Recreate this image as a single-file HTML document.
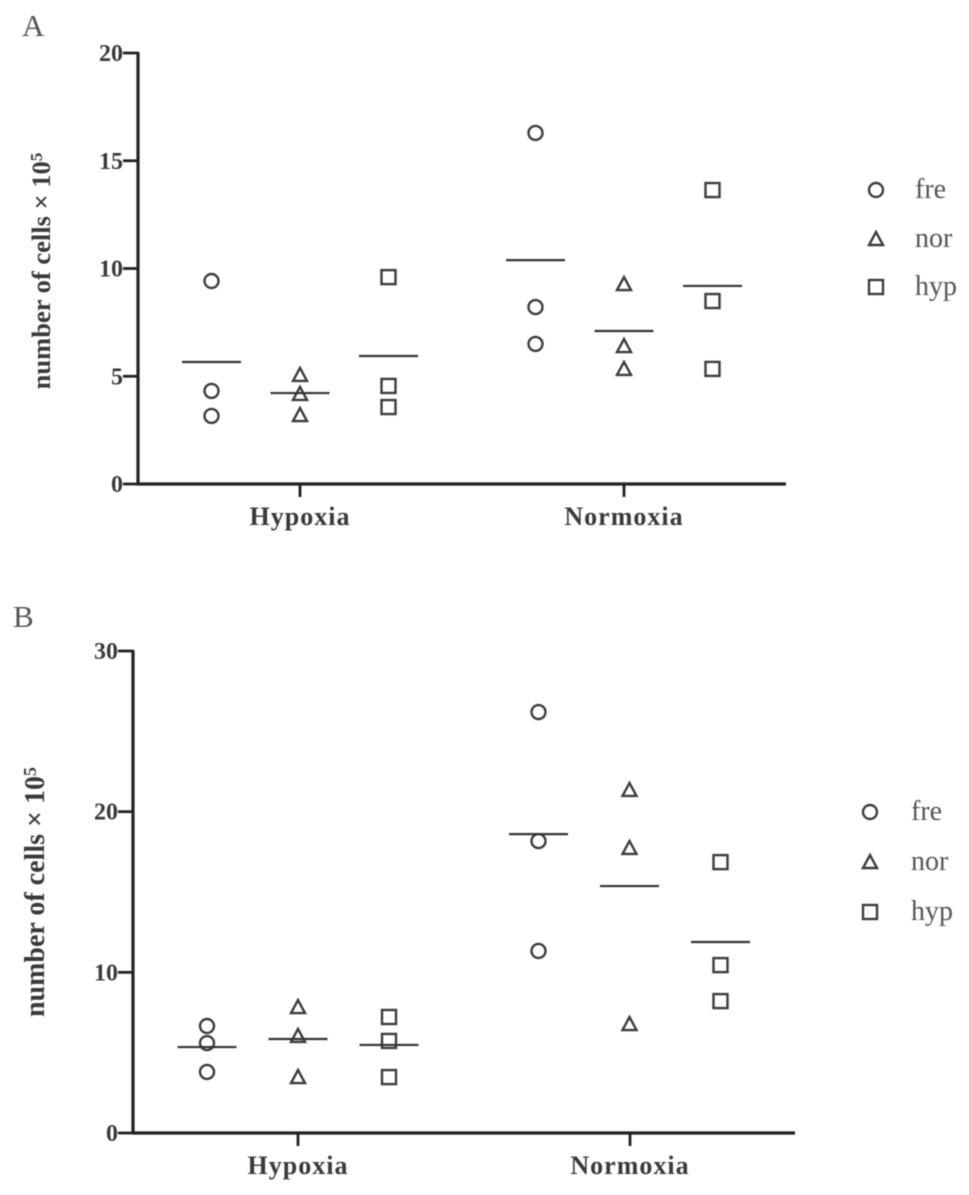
<!DOCTYPE html>
<html>
<head>
<meta charset="utf-8">
<title>Number of cells under hypoxia and normoxia</title>
<style>
html,body{margin:0;padding:0;background:#fff;}
svg{display:block;filter:blur(0.45px);}
text{font-family:"Liberation Serif",serif;fill:#3a3a3a;}
.tick{font-weight:bold;font-size:24px;}
.cat{font-weight:bold;font-size:26px;letter-spacing:1px;}
.title{font-weight:bold;}
.leg{font-size:28px;fill:#555;}
.panel{font-size:31px;fill:#555;}
</style>
</head>
<body>
<svg id="chart" xmlns="http://www.w3.org/2000/svg" width="969" height="1195" viewBox="0 0 969 1195"></svg>
<script>
var groupNames = ["Hypoxia", "Normoxia"];
var seriesNames = ["fre", "nor", "hyp"];

var ticksA = [0, 5, 10, 15, 20];
var freHypoxiaA = [9.42, 4.32, 3.16];
var norHypoxiaA = [5.06, 4.18, 3.2];
var hypHypoxiaA = [9.6, 4.55, 3.57];
var freNormoxiaA = [16.29, 8.21, 6.5];
var norNormoxiaA = [9.28, 6.4, 5.34];
var hypNormoxiaA = [13.64, 8.49, 5.34];
var meansHypoxiaA = [5.66, 4.22, 5.94];
var meansNormoxiaA = [10.39, 7.1, 9.19];

var ticksB = [0, 10, 20, 30];
var freHypoxiaB = [6.66, 5.6, 3.8];
var norHypoxiaB = [7.84, 6.04, 3.48];
var hypHypoxiaB = [7.22, 5.73, 3.48];
var freNormoxiaB = [26.2, 18.17, 11.33];
var norNormoxiaB = [21.35, 17.74, 6.78];
var hypNormoxiaB = [16.86, 10.45, 8.21];
var meansHypoxiaB = [5.35, 5.85, 5.48];
var meansNormoxiaB = [18.6, 15.37, 11.89];

var svg = document.getElementById('chart');
var NS = 'http://www.w3.org/2000/svg';

function make(tag, attrs, text) {
  var el = document.createElementNS(NS, tag);
  for (var k in attrs) { el.setAttribute(k, attrs[k]); }
  if (text !== undefined) { el.textContent = text; }
  svg.appendChild(el);
  return el;
}

function line(x1, y1, x2, y2, width, color) {
  return make('line', {x1: x1, y1: y1, x2: x2, y2: y2, stroke: color || '#222', 'stroke-width': width});
}

function marker(kind, x, y) {
  var style = {fill: 'none', stroke: '#3c3c3c', 'stroke-width': 2.4};
  var el;
  if (kind === 0) {
    style.cx = x; style.cy = y; style.r = 7;
    el = make('circle', style);
  } else if (kind === 1) {
    style.points = (x - 7) + ',' + (y + 6) + ' ' + (x + 7) + ',' + (y + 6) + ' ' + x + ',' + (y - 7);
    el = make('polygon', style);
  } else {
    style.x = x - 7; style.y = y - 7; style.width = 14; style.height = 14;
    el = make('rect', style);
  }
  return el;
}

function drawPanel(p) {
  function yScale(v) { return p.y0 - (v / p.yMax) * (p.y0 - p.yTop); }

  var yAxis = line(p.xAxis, p.yTop - 1, p.xAxis, p.y0 + 1.5, 3.2);
  
  
  var xAxis = line(p.xAxis - 1, p.y0, p.xEnd, p.y0, 3.2);
  
  

  p.ticks.forEach(function (t) {
    var y = yScale(t);
    var tk = line(p.xAxis - 15, y, p.xAxis, y, 2.8);
    
    
    var lb = make('text', {x: p.xAxis - 15, y: y + 8, 'text-anchor': 'end', 'class': 'tick'}, t);
    
    
  });

  groupNames.forEach(function (g, gi) {
    var cx = p.groupX[gi];
    var tk = line(cx, p.y0, cx, p.y0 + 13, 2.8);
    
    
    var lb = make('text', {x: cx, y: p.catY, 'text-anchor': 'middle', 'class': 'cat'}, g);
    
    

    seriesNames.forEach(function (s, si) {
      var x = cx + (si - 1) * p.step + p.groupShift[gi];
      p.values[gi][si].forEach(function (v) {
        var m = marker(si, x, yScale(v));
        
        
      });
      var my = yScale(p.means[gi][si]);
      var ml = line(x - 29.5, my, x + 29.5, my, 2.2, '#333');
      
      
    });
  });

  var title = make('text', {
    x: 0, y: 0, 'text-anchor': 'middle', 'class': 'title', 'font-size': p.titleSize,
    transform: 'translate(' + p.titleX + ' ' + p.titleY + ') rotate(-90)'
  });
  
  
  var main = document.createElementNS(NS, 'tspan');
  main.textContent = 'number of cells × 10';
  title.appendChild(main);
  var sup = document.createElementNS(NS, 'tspan');
  sup.setAttribute('dy', '-8');
  sup.setAttribute('font-size', p.titleSize * 0.65);
  sup.textContent = '5';
  title.appendChild(sup);

  seriesNames.forEach(function (s, si) {
    var ly = p.legendY[si];
    var m = marker(si, p.legendMarkX, ly);
    
    
    var t = make('text', {x: p.legendTextX, y: ly + 8, 'class': 'leg'}, s);
    
    
  });

  var pl = make('text', {x: p.panelX, y: p.panelY, 'class': 'panel'}, p.label);
  
  
}

drawPanel({
  id: 'panel-a', label: 'A', panelX: 22, panelY: 36,
  xAxis: 138, xEnd: 786, y0: 484, yTop: 53, yMax: 20,
  ticks: ticksA, groupX: [300, 624], groupShift: [0, 0], step: 88.5, catY: 525,
  values: [[freHypoxiaA, norHypoxiaA, hypHypoxiaA], [freNormoxiaA, norNormoxiaA, hypNormoxiaA]],
  means: [meansHypoxiaA, meansNormoxiaA],
  titleX: 50, titleY: 271, titleSize: 26.5,
  legendMarkX: 876, legendTextX: 915, legendY: [190, 239, 287]
});

drawPanel({
  id: 'panel-b', label: 'B', panelX: 13, panelY: 627,
  xAxis: 133, xEnd: 795, y0: 1133, yTop: 651, yMax: 30,
  ticks: ticksB, groupX: [298, 630], groupShift: [0, -0.5], step: 91, catY: 1174,
  values: [[freHypoxiaB, norHypoxiaB, hypHypoxiaB], [freNormoxiaB, norNormoxiaB, hypNormoxiaB]],
  means: [meansHypoxiaB, meansNormoxiaB],
  titleX: 44, titleY: 892, titleSize: 28,
  legendMarkX: 870, legendTextX: 911, legendY: [812, 862, 912]
});
</script>
</body>
</html>
